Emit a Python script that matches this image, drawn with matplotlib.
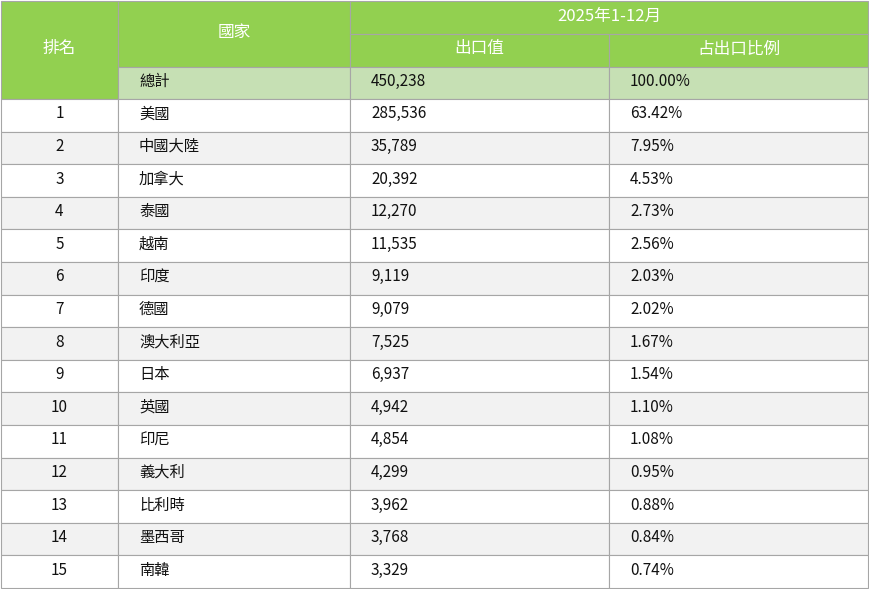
import matplotlib.pyplot as plt
from matplotlib.patches import Rectangle

plt.rcParams["font.family"] = ["Noto Sans CJK TC", "DejaVu Sans"]

period_label = "2025年1-12月"
total_value = "450,238"
total_share = "100.00%"
ranks = list(range(1, 16))
countries = ["美國", "中國大陸", "加拿大", "泰國", "越南", "印度", "德國", "澳大利亞",
             "日本", "英國", "印尼", "義大利", "比利時", "墨西哥", "南韓"]
export_values = [285536, 35789, 20392, 12270, 11535, 9119, 9079, 7525,
                 6937, 4942, 4854, 4299, 3962, 3768, 3329]
export_shares = [63.42, 7.95, 4.53, 2.73, 2.56, 2.03, 2.02, 1.67,
                 1.54, 1.10, 1.08, 0.95, 0.88, 0.84, 0.74]

W, H = 870, 589
COL_X = [1, 118, 350, 609, 868]
HEAD_GREEN = "#92D050"
TOTAL_GREEN = "#C6E0B4"
STRIPE = "#F2F2F2"
BORDER = "#A6A6A6"
FS = 11
HEAD_FS = 12

fig = plt.figure(figsize=(W / 100, H / 100), dpi=100)
ax = fig.add_axes([0, 0, 1, 1])
ax.set_xlim(0, W)
ax.set_ylim(H, 0)
ax.axis("off")


def cell(x0, x1, y0, y1, face, text="", color="#111111", align="left", size=FS):
    ax.add_patch(Rectangle((x0, y0), x1 - x0, y1 - y0, facecolor=face,
                           edgecolor=BORDER, linewidth=0.8))
    if text:
        ymid = (y0 + y1) / 2 - 1.5
        if align == "center":
            ax.text((x0 + x1) / 2, ymid, text, ha="center", va="center",
                    fontsize=size, color=color)
        else:
            ax.text(x0 + 21, ymid, text, ha="left", va="center",
                    fontsize=size, color=color)


# header
cell(COL_X[0], COL_X[1], 1, 99, HEAD_GREEN, "排名", "white", "center", HEAD_FS)
cell(COL_X[1], COL_X[2], 1, 67, HEAD_GREEN, "國家", "white", "center", HEAD_FS)
cell(COL_X[2], COL_X[4], 1, 34, HEAD_GREEN, period_label, "white", "center", HEAD_FS)
cell(COL_X[2], COL_X[3], 34, 67, HEAD_GREEN, "出口值", "white", "center", HEAD_FS)
cell(COL_X[3], COL_X[4], 34, 67, HEAD_GREEN, "占出口比例", "white", "center", HEAD_FS)

# total row
cell(COL_X[1], COL_X[2], 67, 99, TOTAL_GREEN, "總計")
cell(COL_X[2], COL_X[3], 67, 99, TOTAL_GREEN, total_value)
cell(COL_X[3], COL_X[4], 67, 99, TOTAL_GREEN, total_share)

# data rows
row_h = (H - 1 - 99) / len(ranks)
for i, (rank, country, value, share) in enumerate(zip(ranks, countries, export_values, export_shares)):
    y0 = 99 + i * row_h
    y1 = y0 + row_h
    face = "white" if i % 2 == 0 else STRIPE
    cell(COL_X[0], COL_X[1], y0, y1, face, str(rank), align="center")
    cell(COL_X[1], COL_X[2], y0, y1, face, country)
    cell(COL_X[2], COL_X[3], y0, y1, face, f"{value:,}")
    cell(COL_X[3], COL_X[4], y0, y1, face, f"{share:.2f}%")

fig.savefig("out.png", dpi=100)
